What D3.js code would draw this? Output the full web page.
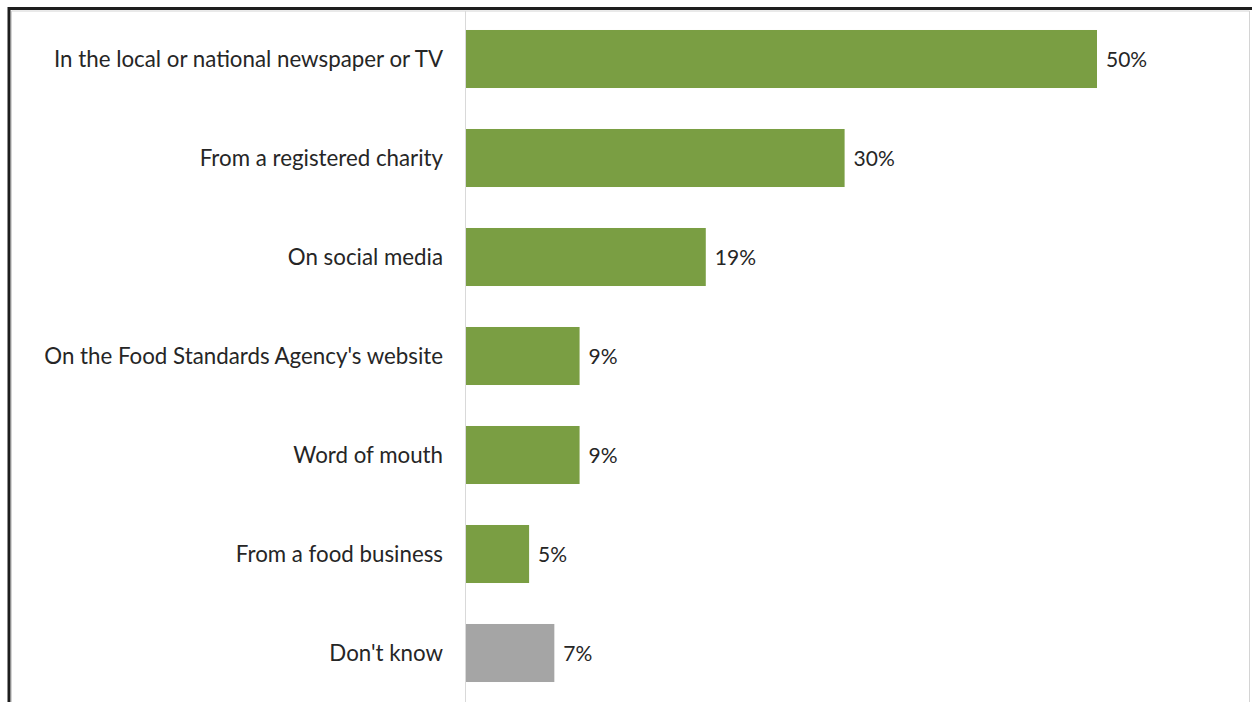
<!DOCTYPE html>
<html>
<head>
<meta charset="utf-8">
<script src="https://cdn.jsdelivr.net/npm/d3@7"></script>
<style>
  html, body { margin: 0; padding: 0; background: #fff; }
  svg { display: block; }
</style>
</head>
<body>
<svg id="chart" width="1252" height="702"></svg>
<script>
// Where people heard about it: share of respondents (%)
const categories = [
  "In the local or national newspaper or TV",
  "From a registered charity",
  "On social media",
  "On the Food Standards Agency's website",
  "Word of mouth",
  "From a food business",
  "Don't know"
];
const values = [50, 30, 19, 9, 9, 5, 7];
const valueLabels = ["50%", "30%", "19%", "9%", "9%", "5%", "7%"];
const barColors = ["#7a9e43", "#7a9e43", "#7a9e43", "#7a9e43", "#7a9e43", "#7a9e43", "#a5a5a5"];

const W = 1252, H = 702;
const svg = d3.select("#chart");
const font = "Lato, 'Noto Sans', sans-serif";

// frame around the chart
svg.append("path")
  .attr("d", "M9,702 V8.5 H1252")
  .attr("fill", "none")
  .attr("stroke", "#1e1e1e")
  .attr("stroke-width", 3);
svg.append("path")
  .attr("d", "M11.5,702 V11 H1249.5 V702")
  .attr("fill", "none")
  .attr("stroke", "#d4d4d4")
  .attr("stroke-width", 1);

const x = d3.scaleLinear().domain([0, 50]).range([466, 1097]);
const y = d3.scaleBand().domain(categories).range([9.5, 702.5]).paddingInner(0.414).paddingOuter(0.207);

// category axis line
svg.append("line")
  .attr("x1", x(0) - 0.5).attr("x2", x(0) - 0.5)
  .attr("y1", 11).attr("y2", H)
  .attr("stroke", "#d9d9d9").attr("stroke-width", 1);

svg.selectAll("rect.bar")
  .data(categories)
  .join("rect")
  .attr("class", "bar")
  .attr("x", x(0))
  .attr("y", d => y(d))
  .attr("width", (d, i) => x(values[i]) - x(0))
  .attr("height", y.bandwidth())
  .attr("fill", (d, i) => barColors[i]);

svg.selectAll("text.cat")
  .data(categories)
  .join("text")
  .attr("class", "cat")
  .attr("x", 443)
  .attr("y", d => y(d) + y.bandwidth() / 2)
  .attr("dy", "0.36em")
  .attr("text-anchor", "end")
  .attr("font-family", font)
  .attr("font-size", 22.3)
  .attr("fill", "#262626")
  .text(d => d);

svg.selectAll("text.val")
  .data(categories)
  .join("text")
  .attr("class", "val")
  .attr("x", (d, i) => x(values[i]) + 9)
  .attr("y", d => y(d) + y.bandwidth() / 2)
  .attr("dy", "0.36em")
  .attr("font-family", font)
  .attr("font-size", 21)
  .attr("fill", "#262626")
  .text((d, i) => valueLabels[i]);
</script>
</body>
</html>
